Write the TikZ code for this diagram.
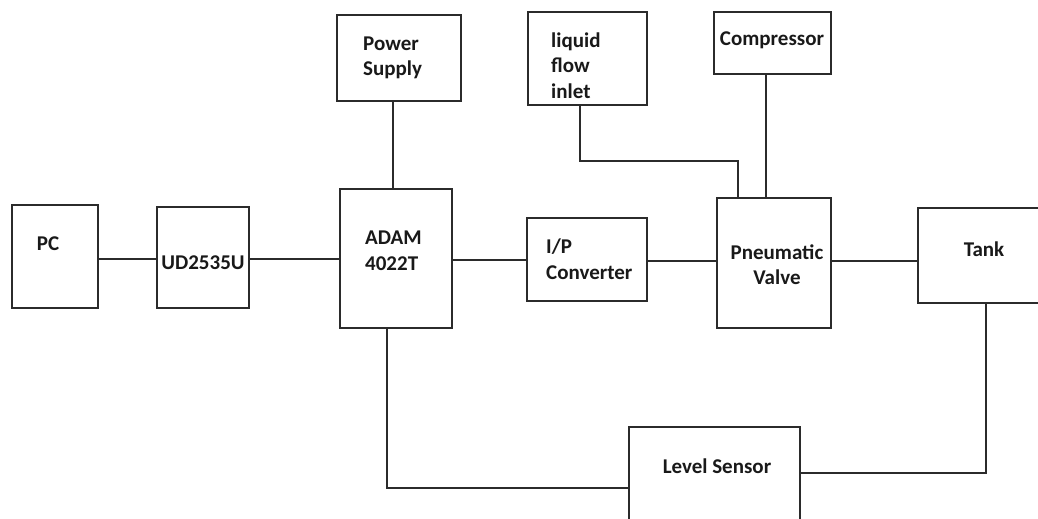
\documentclass[tikz,border=0pt]{standalone}
\usepackage{fontspec}
\setmainfont{Carlito}
\usepackage{xcolor}
\usepackage{tikz}
\usetikzlibrary{positioning,calc}
\definecolor{edge}{HTML}{2B2B2B}
\tikzset{
    box/.style={rectangle, draw=edge, line width=1.3pt, inner sep=0pt},
    lbl/.style={inner sep=0pt, align=left, font=\fontsize{21}{25.5}\selectfont\bfseries, text=black!90},
    link/.style={draw=edge, line width=1.3pt}
}

\begin{document}
\begin{tikzpicture}[x=1pt, y=-1pt]
    \clip (0,0) rectangle (1038,519);
    \fill[white] (0,0) rectangle (1038,519);
    % blocks
    \node[box, minimum width=86pt, minimum height=103pt] (pc) at (55,256.5) {};
    \node[box, minimum width=92pt, minimum height=101pt] (ud) at (203,257.5) {};
    \node[box, minimum width=112pt, minimum height=139pt] (adam) at (396,258.5) {};
    \node[box, minimum width=124pt, minimum height=86pt] (power) at (399,58) {};
    \node[box, minimum width=119pt, minimum height=93pt] (liquid) at (587.5,58.5) {};
    \node[box, minimum width=117pt, minimum height=62pt] (comp) at (772.5,43) {};
    \node[box, minimum width=120pt, minimum height=83pt] (ip) at (587,259.5) {};
    \node[box, minimum width=114pt, minimum height=130pt] (valve) at (774,263) {};
    \node[box, minimum width=132pt, minimum height=95pt] (tank) at (984,255.5) {};
    \node[box, minimum width=171pt, minimum height=113pt] (level) at (714.5,483.5) {};
    % texts
    \node[lbl] at (48,244) {PC};
    \node[lbl] at (203,263) {UD2535U};
    \node[lbl, anchor=west] at (365,251) {ADAM\\4022T};
    \node[lbl, anchor=west] at (363,58) {Power\\Supply};
    \node[lbl, anchor=west] at (551,65.5) {liquid\\flow\\inlet};
    \node[lbl] at (772,40) {Compressor};
    \node[lbl, anchor=west] at (546,259) {I/P\\Converter};
    \node[lbl, align=center] at (777,264.5) {Pneumatic\\Valve};
    \node[lbl] at (984,249) {Tank};
    \node[lbl] at (717,466) {Level Sensor};
    % connectors
    \coordinate (inlet) at (738,161);
    \draw[link] ([yshift=-2.5pt]pc.east) -- ([yshift=-2.5pt]pc.east -| ud.west);
    \draw[link] ([yshift=-1.5pt]ud.east) -- ([yshift=-1.5pt]ud.east -| adam.west);
    \draw[link] ([yshift=-1.5pt]adam.east) -- ([yshift=-1.5pt]adam.east -| ip.west);
    \draw[link] ([yshift=-1.5pt]ip.east) -- ([yshift=-1.5pt]ip.east -| valve.west);
    \draw[link] ([yshift=-1.5pt]ip.east -| valve.east) -- ([yshift=-1.5pt]ip.east -| tank.west);
    \draw[link] ([xshift=-3pt]adam.north) -- ([xshift=-3pt]adam.north |- power.south);
    \draw[link] ([xshift=-8pt]valve.north) -- ([xshift=-8pt]valve.north |- comp.south);
    \draw[link] ([xshift=-7.5pt]liquid.south) |- (inlet) -- ([yshift=-2pt]inlet |- valve.north);
    \draw[link] ([xshift=-9pt]adam.south) |- ([yshift=-4.5pt]level.west);
    \draw[link] ([xshift=2pt]tank.south) |- ([yshift=10.5pt]level.east);
\end{tikzpicture}
\end{document}
